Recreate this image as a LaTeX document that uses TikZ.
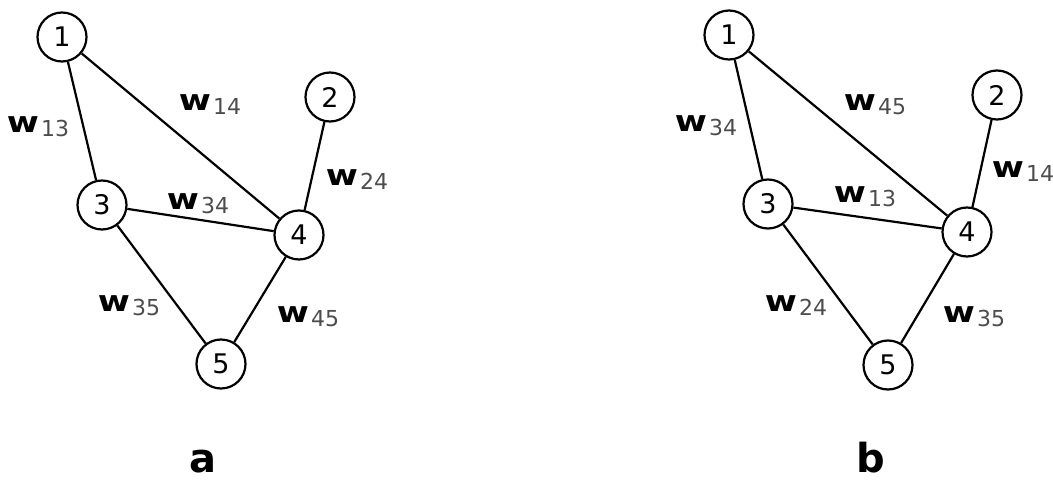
\documentclass[tikz,border=0pt]{standalone}
\usepackage{graphicx}
\usepackage{fontspec}
\setmainfont{DejaVu Sans}
\begin{document}
\begin{tikzpicture}[x=1pt,y=-1pt,
  vtx/.style={circle,draw,line width=2.2pt,minimum size=49pt,inner sep=0pt,font=\fontsize{27}{27}\selectfont},
  edge/.style={line width=2.2pt},
  wlab/.style={inner sep=0pt,font=\fontsize{29}{29}\selectfont},
  panel/.style={inner sep=0pt,font=\fontsize{40}{40}\selectfont\bfseries,anchor=base}]
\useasboundingbox (0,0) rectangle (1053,481);
\newcommand{\wl}[1]{\scalebox{1.2}[1]{\textbf{w}}\kern2pt\raisebox{-4pt}{\fontsize{22}{22}\selectfont\color{black!70}#1}}
% graph a
\node[vtx] (a1) at (62,37) {1};
\node[vtx] (a2) at (330,97) {2};
\node[vtx] (a3) at (102,205) {3};
\node[vtx] (a4) at (299,235) {4};
\node[vtx] (a5) at (221,364) {5};
\draw[edge] (a1) -- (a3);
\draw[edge] (a1) -- (a4);
\draw[edge] (a2) -- (a4);
\draw[edge] (a3) -- (a4);
\draw[edge] (a3) -- (a5);
\draw[edge] (a4) -- (a5);
\node[wlab] (la13) at (38,127) {\wl{13}};
\node[wlab] (la14) at (210,105) {\wl{14}};
\node[wlab] (la24) at (357,180) {\wl{24}};
\node[wlab] (la34) at (198,204) {\wl{34}};
\node[wlab] (la35) at (129,306) {\wl{35}};
\node[wlab] (la45) at (308,317) {\wl{45}};
\node[panel] (pa) at (203,472) {a};
% graph b
\node[vtx] (b1) at (729,35) {1};
\node[vtx] (b2) at (997,95) {2};
\node[vtx] (b3) at (768,204) {3};
\node[vtx] (b4) at (967,232) {4};
\node[vtx] (b5) at (888,365) {5};
\draw[edge] (b1) -- (b3);
\draw[edge] (b1) -- (b4);
\draw[edge] (b2) -- (b4);
\draw[edge] (b3) -- (b4);
\draw[edge] (b3) -- (b5);
\draw[edge] (b4) -- (b5);
\node[wlab] (lb45) at (875,105) {\wl{45}};
\node[wlab] (lb34) at (706,126) {\wl{34}};
\node[wlab] (lb14) at (1023,172) {\wl{14}};
\node[wlab] (lb13) at (865,197) {\wl{13}};
\node[wlab] (lb24) at (796,306) {\wl{24}};
\node[wlab] (lb35) at (974,317) {\wl{35}};
\node[panel] (pb) at (871,472) {b};
\end{tikzpicture}
\end{document}
